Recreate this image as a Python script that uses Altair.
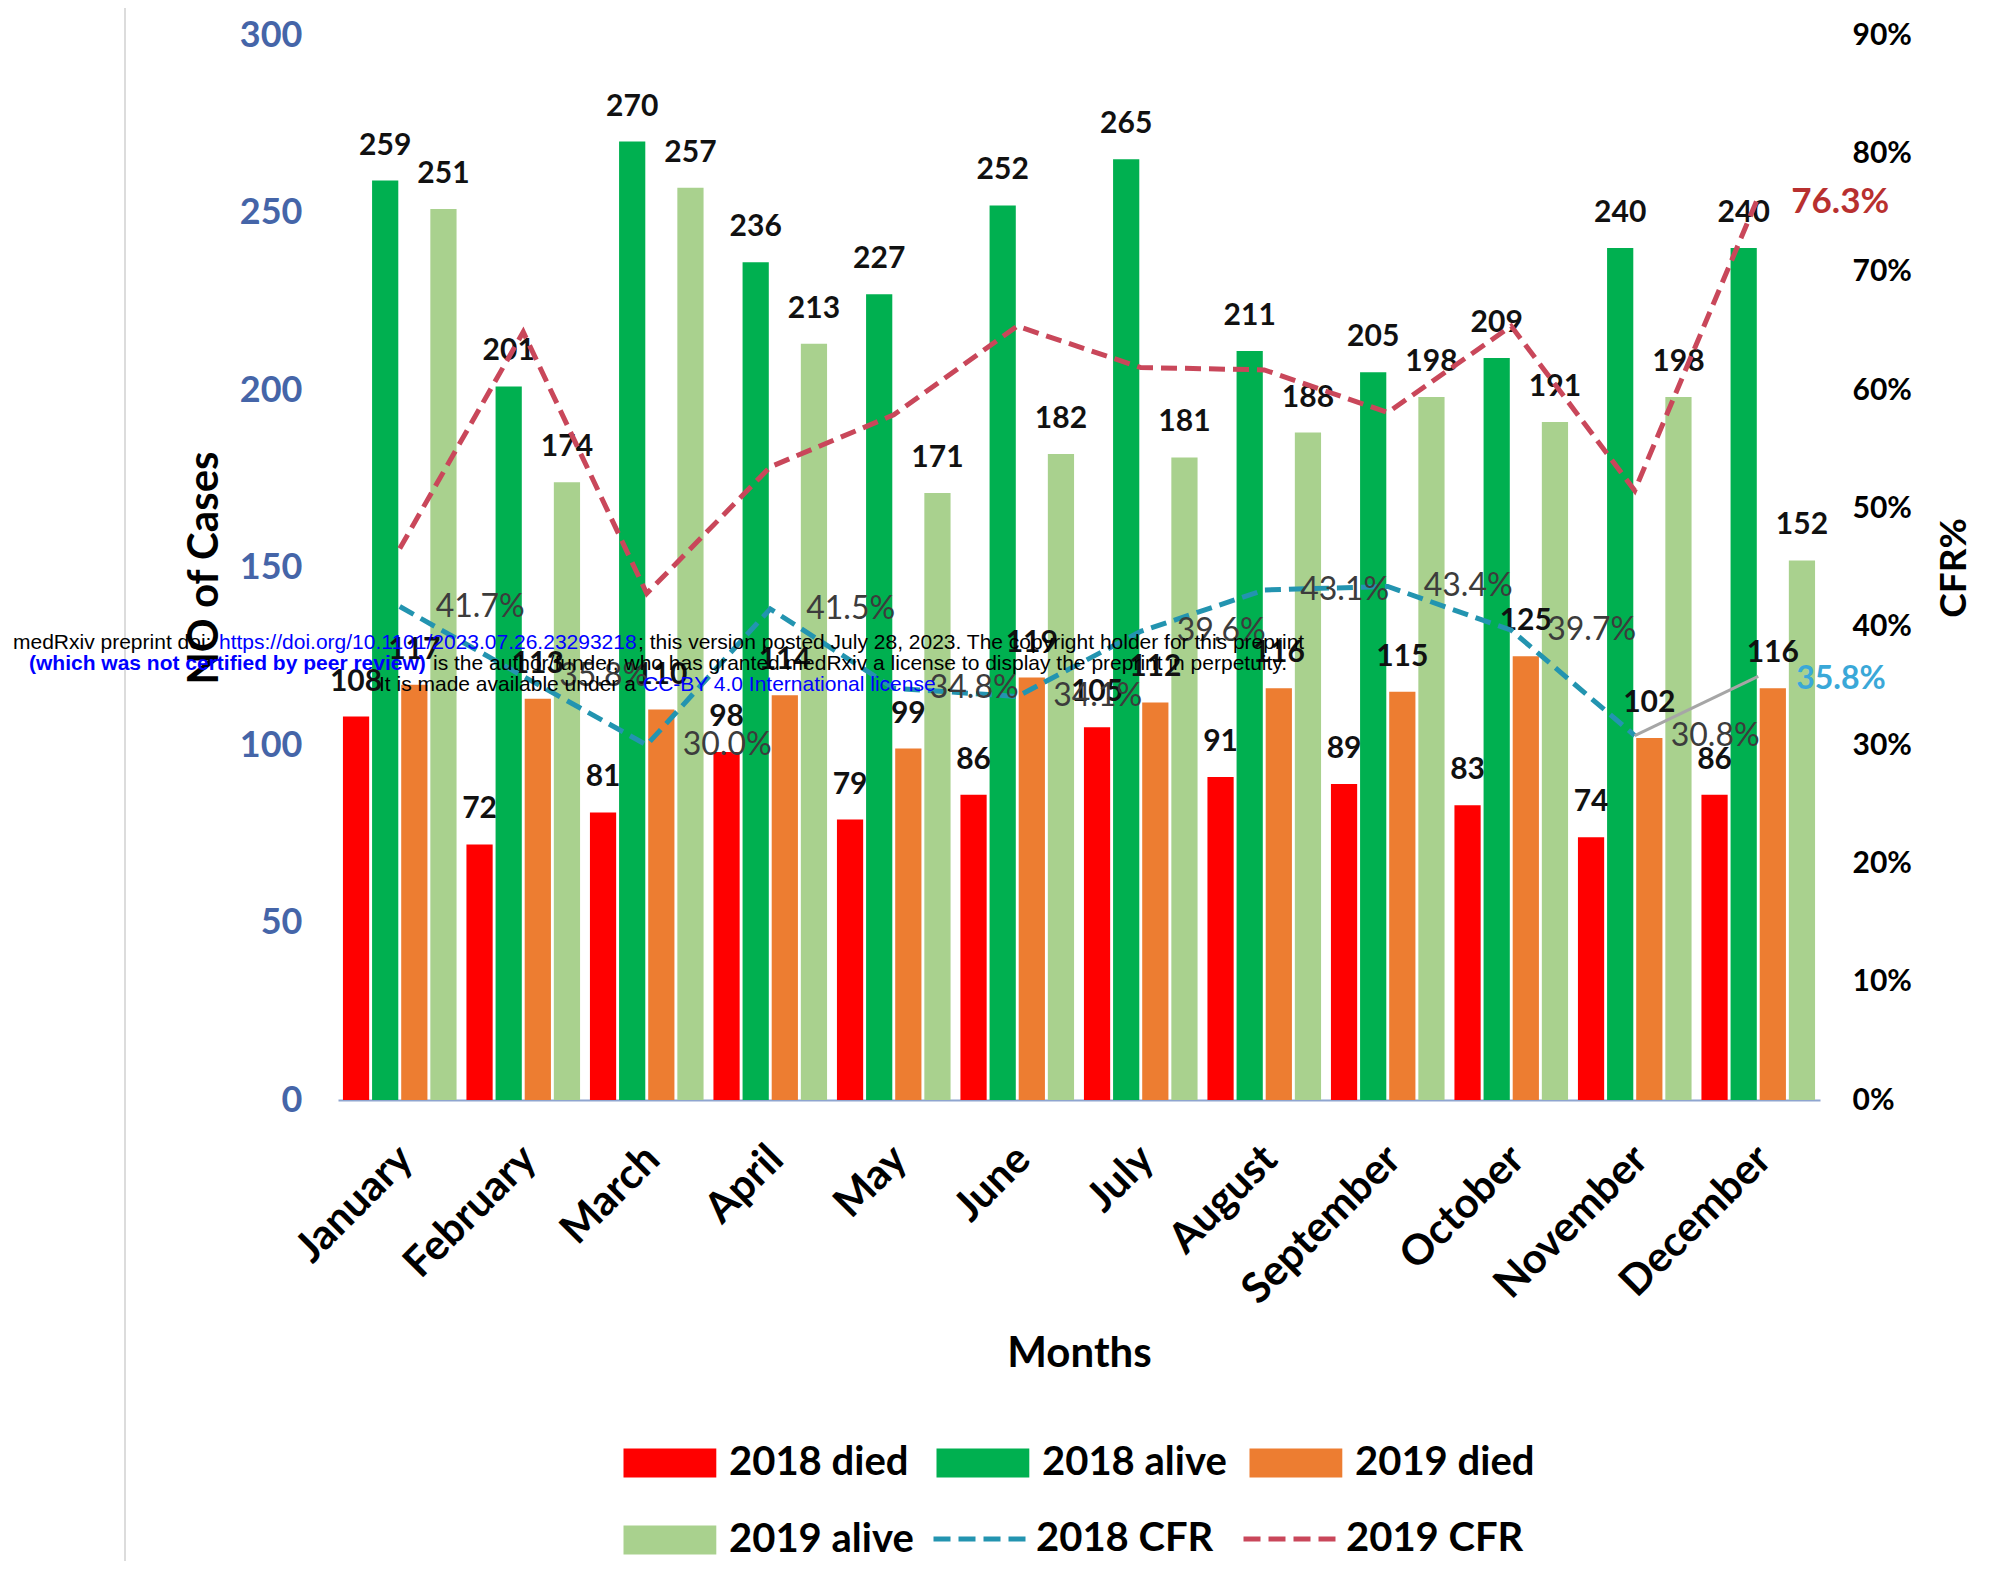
import altair as alt
import pandas as pd

# ---------------- data ----------------
months = ["January", "February", "March", "April", "May", "June", "July",
          "August", "September", "October", "November", "December"]
died_2018 = [108, 72, 81, 98, 79, 86, 105, 91, 89, 83, 74, 86]
alive_2018 = [259, 201, 270, 236, 227, 252, 265, 211, 205, 209, 240, 240]
died_2019 = [117, 113, 110, 114, 99, 119, 112, 116, 115, 125, 102, 116]
alive_2019 = [251, 174, 257, 213, 171, 182, 181, 188, 198, 191, 198, 152]
cfr_2018 = [41.7, 35.8, 30.0, 41.5, 34.8, 34.1, 39.6, 43.1, 43.4, 39.7, 30.8, 35.8]
cfr_2019 = [46.6, 64.9, 42.8, 53.5, 57.9, 65.4, 61.9, 61.7, 58.1, 65.4, 51.5, 76.3]

bar_series = ["2018 died", "2018 alive", "2019 died", "2019 alive"]
bar_colors = ["#FF0000", "#00B050", "#ED7D31", "#A9D18E"]
line_series = ["2018 CFR", "2019 CFR"]
line_colors = ["#2394B0", "#C9475A"]

rows = []
for i, m in enumerate(months):
    for s, vals in zip(bar_series, [died_2018, alive_2018, died_2019, alive_2019]):
        rows.append({"month": m, "series": s, "value": vals[i]})
bars_df = pd.DataFrame(rows)

crows = []
for i, m in enumerate(months):
    crows.append({"month": m, "series": "2018 CFR", "cfr": cfr_2018[i], "idx": i})
    crows.append({"month": m, "series": "2019 CFR", "cfr": cfr_2019[i], "idx": i})
cfr_df = pd.DataFrame(crows)

dummy = pd.DataFrame({"d": [0]})

# plot-area origin in page pixels (used for the decorative overlays only)
OX, OY = 338, 35
W, H = 1482, 1065

# ---------------- encodings ----------------
x_enc = alt.X(
    "month:N", sort=months,
    scale=alt.Scale(paddingInner=0.08, paddingOuter=0.04),
    axis=alt.Axis(
        title="Months", labelAngle=-45, labelAlign="right", labelBaseline="top",
        labelPadding=38, labelOffset=-8, labelFontSize=42, labelFontWeight="bold",
        labelColor="#000000", labelLimit=0, ticks=False, domainColor="#8FA5CF",
        domainWidth=2, grid=False, titleFontSize=42, titleFontWeight="bold",
        titleColor="#000000", titleY=253, titleBaseline="middle",
    ),
)

y_left = alt.Y(
    "value:Q",
    scale=alt.Scale(domain=[0, 300]),
    axis=alt.Axis(
        values=[0, 50, 100, 150, 200, 250, 300], title="NO of Cases",
        titleX=-134, titleY=H / 2, titleAngle=270, titleAlign="center",
        titleBaseline="middle", titleFontSize=42, titleFontWeight="bold",
        titleColor="#000000", labelFontSize=36, labelFontWeight="bold",
        labelColor="#4565A8", labelPadding=36, ticks=False, domain=False, grid=False,
    ),
)

y_right = alt.Y(
    "cfr:Q",
    scale=alt.Scale(domain=[0, 90]),
    axis=alt.Axis(
        orient="right", values=list(range(0, 91, 10)), labelExpr="datum.value + '%'",
        title="CFR%", titleX=134, titleY=H / 2, titleAngle=270, titleAlign="center",
        titleBaseline="middle", titleFontSize=37, titleFontWeight="bold",
        titleColor="#000000", labelFontSize=30, labelFontWeight="bold",
        labelColor="#000000", labelPadding=32, ticks=False, domain=False, grid=False,
    ),
)

x_off = alt.XOffset("series:N", sort=bar_series,
                    scale=alt.Scale(paddingInner=0.1, paddingOuter=0))

# ---------------- bars ----------------
bars = alt.Chart(bars_df).mark_bar().encode(
    x=x_enc,
    xOffset=x_off,
    y=y_left,
    color=alt.Color(
        "series:N",
        scale=alt.Scale(domain=bar_series, range=bar_colors),
        legend=alt.Legend(
            title=None, orient="none", legendX=280, legendY=1408, columns=3,
            direction="horizontal", values=bar_series, columnPadding=17,
            rowPadding=37, padding=0,
            symbolType="M-1,-1H5.4V1H-1Z", symbolSize=841, symbolStrokeWidth=0,
            symbolOpacity=1, labelOffset=71, labelFontSize=40, labelFontWeight="bold",
            labelColor="#000000", labelLimit=0,
        ),
    ),
)

bar_text = alt.Chart(bars_df).mark_text(
    baseline="alphabetic", dy=-26, fontSize=30, fontWeight="bold", color="#111111"
).encode(x=x_enc, xOffset=x_off, y=y_left, text=alt.Text("value:Q"))

left = alt.layer(bars, bar_text)

# ---------------- CFR lines ----------------
cfr_base = alt.Chart(cfr_df).transform_calculate(
    lab="format(datum.cfr, '.1f') + '%'"
)

cfr_lines = cfr_base.transform_filter(
    "datum.series == '2019 CFR' || datum.idx <= 10"
).mark_line(strokeDash=[16, 8], strokeWidth=5).encode(
    x=x_enc,
    y=y_right,
    stroke=alt.Stroke(
        "series:N",
        scale=alt.Scale(domain=line_series, range=line_colors),
        legend=alt.Legend(
            title=None, orient="none", legendX=590, legendY=1484, columns=2,
            direction="horizontal", values=line_series, columnPadding=19, padding=0,
            symbolType="M-1,0H5.4", symbolSize=841,
            symbolStrokeWidth=5, symbolDash=[17, 8], labelOffset=68,
            labelFontSize=40, labelFontWeight="bold", labelColor="#000000",
            labelLimit=0,
        ),
    ),
)

gray_seg = cfr_base.transform_filter(
    "datum.series == '2018 CFR' && datum.idx >= 10"
).mark_line(color="#A6A6A6", strokeWidth=3).encode(x=x_enc, y=y_right)

cfr_text = cfr_base.transform_filter(
    "datum.series == '2018 CFR' && datum.idx <= 10"
).mark_text(align="left", baseline="middle", dx=36, fontSize=32,
            color="#3C3C3C").encode(x=x_enc, y=y_right, text="lab:N")

dec_2018 = cfr_base.transform_filter(
    "datum.series == '2018 CFR' && datum.idx == 11"
).mark_text(align="left", baseline="middle", dx=38, dy=3, fontSize=32,
            fontWeight="bold", color="#3AA8D8").encode(x=x_enc, y=y_right, text="lab:N")

dec_2019 = cfr_base.transform_filter(
    "datum.series == '2019 CFR' && datum.idx == 11"
).mark_text(align="left", baseline="middle", dx=33, dy=5, fontSize=35,
            fontWeight="bold", color="#B8302F").encode(x=x_enc, y=y_right, text="lab:N")

right = alt.layer(cfr_lines, gray_seg, cfr_text, dec_2018, dec_2019)

# ---------------- decorations ----------------
frame = alt.Chart(dummy).mark_rule(color="#DCDCDC", strokeWidth=2).encode(
    x=alt.value(125 - OX), y=alt.value(-OY), y2=alt.value(1569 - OY)
)


def note(text, x, y, color="#000000", weight="normal"):
    return alt.Chart(dummy).mark_text(
        text=text, align="left", baseline="middle", font="Liberation Sans",
        fontSize=21, color=color, fontWeight=weight,
    ).encode(x=alt.value(x - OX), y=alt.value(y - OY))


notes = [
    note("medRxiv preprint doi: ", 13, 643),
    note("https://doi.org/10.1101/2023.07.26.23293218", 219, 643, "#0000FF"),
    note("; this version posted July 28, 2023. The copyright holder for this preprint", 638, 643),
    note("(which was not certified by peer review)", 29, 664, "#0000FF", "bold"),
    note(" is the author/funder, who has granted medRxiv a license to display the preprint in perpetuity.", 433, 664),
    note("It is made available under a ", 379, 685),
    note("CC-BY 4.0 International license", 643, 685, "#0000FF"),
    note(" .", 946, 685),
]

chart = alt.layer(left, right, frame, *notes).resolve_scale(
    y="independent"
).properties(
    width=W, height=H,
    padding={"left": OX - 8, "top": OY - 8, "right": 1996 - 16 - (OX - 8) - W, "bottom": 461},
    autosize=alt.AutoSizeParams(type="none"),
    background="white",
).configure(font="Lato").configure_view(stroke=None)

chart.save("out.html", embed_options={"renderer": "svg", "actions": False})
